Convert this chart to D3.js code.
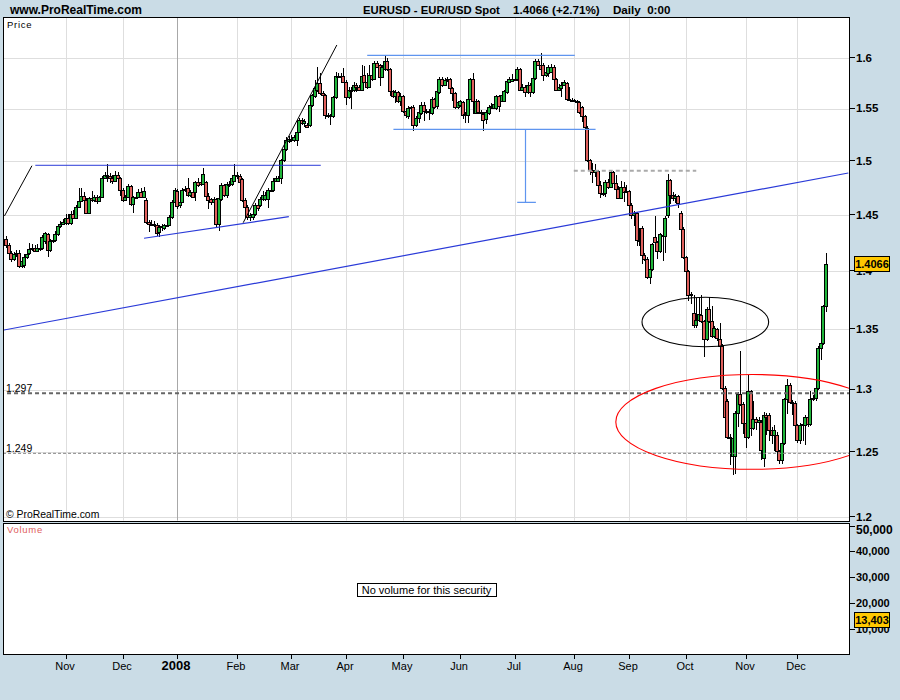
<!DOCTYPE html>
<html><head><meta charset="utf-8">
<script src="https://cdn.jsdelivr.net/npm/d3@7/dist/d3.min.js"></script>
<style>html,body{margin:0;padding:0;background:#cadce6;overflow:hidden}svg{display:block}text{font-family:"Liberation Sans",Arial,sans-serif}</style>
</head><body><svg id="c" width="900" height="700"></svg>
<script>
const opens=[1.4285,1.4235,1.416,1.411,1.415,1.416,1.405,1.4055,1.4125,1.416,
1.42,1.421,1.418,1.42,1.421,1.4265,1.433,1.419,1.4265,1.4275,
1.433,1.44,1.4425,1.443,1.448,1.443,1.4515,1.448,1.458,1.463,
1.468,1.464,1.4525,1.4655,1.464,1.467,1.463,1.467,1.4845,1.487,
1.4865,1.484,1.482,1.4875,1.484,1.473,1.464,1.467,1.477,1.46,
1.4665,1.467,1.4715,1.467,1.464,1.4435,1.4425,1.442,1.441,1.435,
1.439,1.4385,1.441,1.441,1.4485,1.4625,1.4725,1.459,1.4625,1.473,
1.4755,1.4685,1.4715,1.4715,1.481,1.481,1.479,1.481,1.468,1.4645,
1.4625,1.465,1.4425,1.4645,1.478,1.4685,1.478,1.4785,1.482,1.487,
1.4865,1.483,1.464,1.458,1.4485,1.4485,1.4515,1.4595,1.4595,1.465,
1.465,1.465,1.473,1.473,1.482,1.482,1.484,1.501,1.512,1.519,
1.5215,1.52,1.52,1.5279,1.5389,1.5364,1.5342,1.5342,1.5534,1.5627,
1.5684,1.575,1.5657,1.5634,1.5443,1.5427,1.5427,1.5617,1.5827,1.582,
1.5827,1.5767,1.5617,1.5684,1.5684,1.5734,1.5717,1.569,1.5833,1.5767,
1.571,1.5833,1.579,1.595,1.5933,1.5817,1.589,1.5977,1.589,1.5674,
1.5627,1.5667,1.5577,1.5627,1.5484,1.5427,1.551,1.5517,1.5342,1.5415,
1.5459,1.5542,1.5484,1.5468,1.5459,1.56,1.5524,1.5667,1.579,1.5734,
1.5784,1.579,1.57,1.5657,1.5517,1.5534,1.5567,1.5446,1.5446,1.56,
1.579,1.5462,1.5577,1.5468,1.5453,1.5405,1.5459,1.5517,1.5507,1.5507,
1.5627,1.5577,1.5577,1.5667,1.5767,1.5774,1.5784,1.579,1.589,1.569,
1.5717,1.5667,1.5734,1.5667,1.58,1.5977,1.5933,1.5933,1.5833,1.585,
1.5867,1.5917,1.579,1.569,1.57,1.5734,1.575,1.56,1.559,1.5584,
1.5577,1.5567,1.5517,1.5427,1.5319,1.501,1.4917,1.49,1.4905,1.478,
1.47,1.4706,1.4808,1.4762,1.4901,1.48,1.4744,1.466,1.4762,1.4713,
1.4719,1.4598,1.4506,1.452,1.4274,1.4387,1.4148,1.411,1.395,1.402,
1.4306,1.4259,1.4178,1.4318,1.4312,1.45,1.4821,1.469,1.466,1.4675,
1.4525,1.4378,1.4127,1.4,1.3794,1.3643,1.3534,1.358,1.3624,1.3567,
1.3417,1.3674,1.3567,1.3444,1.35,1.3417,1.3361,1.3014,1.2908,1.2622,
1.2469,1.2469,1.2811,1.2962,1.2881,1.273,1.2617,1.299,1.2692,1.2765,
1.2738,1.2738,1.2456,1.2792,1.2792,1.2676,1.2638,1.2638,1.2508,1.2435,
1.2573,1.2919,1.3036,1.29,1.2892,1.2711,1.2595,1.2711,1.2711,1.2778,
1.2724,1.2919,1.2935,1.3014,1.3342,1.3383,1.3695];
const closes=[1.4235,1.416,1.411,1.415,1.416,1.405,1.409,1.4125,1.4155,1.42,
1.421,1.418,1.421,1.421,1.43,1.434,1.419,1.4265,1.428,1.433,
1.44,1.4425,1.444,1.448,1.443,1.4515,1.448,1.458,1.463,1.468,
1.464,1.4525,1.4655,1.464,1.467,1.463,1.467,1.4845,1.487,1.4865,
1.484,1.482,1.4875,1.484,1.473,1.464,1.467,1.477,1.46,1.4665,
1.467,1.4715,1.467,1.472,1.4435,1.4425,1.442,1.441,1.434,1.439,
1.44,1.441,1.441,1.4485,1.4625,1.473,1.4585,1.4625,1.473,1.4745,
1.4685,1.4715,1.467,1.481,1.478,1.479,1.488,1.468,1.464,1.4625,
1.465,1.4425,1.4655,1.478,1.4685,1.479,1.479,1.484,1.487,1.4865,
1.481,1.464,1.458,1.4485,1.45,1.4515,1.4595,1.4565,1.465,1.469,
1.469,1.4735,1.4725,1.482,1.484,1.484,1.501,1.512,1.52,1.5215,
1.52,1.5225,1.5279,1.5389,1.5364,1.5383,1.5322,1.5534,1.5634,1.57,
1.5757,1.5657,1.5634,1.5437,1.5427,1.5437,1.5617,1.5827,1.582,1.5827,
1.5767,1.5617,1.5684,1.5674,1.5734,1.5717,1.569,1.5827,1.5767,1.571,
1.5833,1.579,1.595,1.5917,1.5817,1.5917,1.5977,1.589,1.5674,1.5627,
1.5667,1.5577,1.5627,1.5484,1.5437,1.551,1.5517,1.5342,1.5415,1.5468,
1.5542,1.5484,1.5468,1.5484,1.56,1.5517,1.5674,1.579,1.5734,1.5784,
1.579,1.57,1.5657,1.5517,1.5567,1.5574,1.5446,1.5453,1.56,1.579,
1.5577,1.5577,1.5468,1.5459,1.5389,1.5468,1.5517,1.5524,1.555,1.5627,
1.5527,1.5634,1.5674,1.5774,1.579,1.579,1.579,1.589,1.569,1.5717,
1.5667,1.5734,1.5667,1.58,1.5977,1.5933,1.589,1.5833,1.5867,1.5917,
1.5917,1.579,1.569,1.5717,1.5734,1.5761,1.56,1.559,1.5584,1.5577,
1.5567,1.5468,1.5427,1.5326,1.501,1.4917,1.49,1.4917,1.478,1.47,
1.4706,1.4808,1.4762,1.4901,1.48,1.4744,1.466,1.4762,1.4713,1.4719,
1.4598,1.4506,1.452,1.4274,1.4274,1.4148,1.411,1.395,1.402,1.4238,
1.4259,1.4178,1.4327,1.4318,1.4476,1.4821,1.469,1.466,1.4675,1.4613,
1.4378,1.4127,1.4,1.3794,1.38,1.3534,1.358,1.3629,1.3567,1.3417,
1.3674,1.3567,1.3444,1.3508,1.3425,1.3361,1.3014,1.2778,1.2622,1.2612,
1.2612,1.2811,1.2962,1.2881,1.273,1.2617,1.299,1.2692,1.2765,1.2738,
1.2757,1.2514,1.2792,1.2778,1.2676,1.2638,1.2676,1.2508,1.2435,1.2573,
1.2919,1.3036,1.29,1.2887,1.2711,1.2595,1.2711,1.2719,1.2778,1.2719,
1.2919,1.2935,1.3014,1.3342,1.3383,1.3695,1.4066];
const highs=[1.431,1.425,1.418,1.417,1.419,1.419,1.411,1.415,1.418,1.425,
1.424,1.423,1.424,1.423,1.432,1.435,1.434,1.429,1.431,1.436,
1.441,1.445,1.447,1.4515,1.451,1.4535,1.455,1.459,1.4747,1.475,
1.471,1.466,1.467,1.4725,1.469,1.469,1.468,1.486,1.49,1.497,
1.489,1.487,1.491,1.49,1.4855,1.475,1.469,1.479,1.478,1.468,
1.47,1.474,1.475,1.476,1.466,1.446,1.446,1.445,1.443,1.441,
1.442,1.442,1.443,1.45,1.464,1.475,1.474,1.465,1.475,1.477,
1.484,1.473,1.474,1.482,1.484,1.4835,1.4935,1.482,1.47,1.466,
1.467,1.466,1.467,1.48,1.479,1.481,1.482,1.486,1.4975,1.49,
1.488,1.484,1.466,1.459,1.452,1.455,1.461,1.463,1.467,1.472,
1.471,1.475,1.475,1.484,1.486,1.486,1.502,1.513,1.5225,1.524,
1.5245,1.525,1.53,1.541,1.541,1.54,1.536,1.555,1.565,1.578,
1.5917,1.5855,1.568,1.565,1.546,1.5455,1.563,1.586,1.5855,1.585,
1.59,1.578,1.571,1.571,1.576,1.575,1.5735,1.5935,1.592,1.585,
1.5935,1.586,1.5975,1.597,1.5945,1.593,1.602,1.6,1.59,1.569,
1.5685,1.568,1.566,1.564,1.55,1.5525,1.553,1.5535,1.543,1.5485,
1.5565,1.5567,1.55,1.55,1.562,1.561,1.571,1.581,1.581,1.58,
1.581,1.5805,1.5715,1.567,1.558,1.559,1.558,1.547,1.561,1.58,
1.5855,1.5595,1.559,1.549,1.547,1.549,1.554,1.556,1.557,1.564,
1.564,1.5655,1.569,1.579,1.5815,1.584,1.581,1.591,1.5905,1.574,
1.573,1.576,1.575,1.5815,1.5995,1.5995,1.605,1.595,1.5885,1.5935,
1.5945,1.593,1.5805,1.574,1.5765,1.5785,1.5765,1.5715,1.561,1.56,
1.559,1.558,1.553,1.544,1.5335,1.5025,1.498,1.497,1.492,1.482,
1.4725,1.4825,1.483,1.4915,1.491,1.4875,1.477,1.482,1.4805,1.478,
1.473,1.461,1.4535,1.453,1.4387,1.44,1.4165,1.4125,1.403,1.425,
1.4497,1.427,1.434,1.4396,1.449,1.4883,1.4835,1.471,1.4695,1.469,
1.4535,1.439,1.4135,1.401,1.382,1.3795,1.377,1.378,1.379,1.358,
1.369,1.3777,1.37,1.353,1.3515,1.355,1.3375,1.303,1.2925,1.264,
1.263,1.283,1.298,1.3314,1.29,1.2745,1.3116,1.3,1.2905,1.278,
1.278,1.2755,1.2815,1.281,1.281,1.2695,1.2715,1.2655,1.252,1.259,
1.2935,1.3089,1.305,1.2915,1.2905,1.2725,1.273,1.2745,1.2795,1.2795,
1.2985,1.2955,1.3035,1.336,1.3425,1.371,1.4159];
const lows=[1.421,1.413,1.408,1.409,1.413,1.403,1.403,1.4025,1.411,1.414,
1.418,1.417,1.417,1.418,1.419,1.424,1.413,1.417,1.425,1.426,
1.431,1.4385,1.441,1.4415,1.4415,1.4415,1.447,1.4465,1.457,1.462,
1.463,1.4515,1.451,1.462,1.462,1.46,1.462,1.466,1.483,1.481,
1.48,1.479,1.4805,1.482,1.468,1.462,1.463,1.466,1.4585,1.452,
1.465,1.466,1.466,1.466,1.442,1.435,1.44,1.439,1.431,1.43,
1.436,1.437,1.439,1.44,1.447,1.461,1.456,1.457,1.461,1.471,
1.467,1.467,1.4655,1.463,1.476,1.477,1.478,1.466,1.456,1.459,
1.461,1.4395,1.4355,1.463,1.467,1.466,1.476,1.477,1.481,1.483,
1.48,1.4625,1.454,1.446,1.4445,1.446,1.449,1.454,1.458,1.463,
1.463,1.457,1.471,1.471,1.481,1.481,1.4785,1.4995,1.51,1.517,
1.518,1.5185,1.514,1.5265,1.534,1.533,1.5315,1.533,1.552,1.561,
1.567,1.564,1.561,1.5405,1.541,1.5345,1.541,1.56,1.58,1.578,
1.575,1.5534,1.56,1.55,1.567,1.5665,1.5675,1.5675,1.575,1.5695,
1.57,1.577,1.578,1.59,1.5725,1.58,1.5875,1.5875,1.563,1.561,
1.556,1.5555,1.553,1.546,1.5415,1.54,1.549,1.5285,1.5325,1.536,
1.5445,1.5385,1.545,1.5395,1.5445,1.55,1.55,1.565,1.571,1.572,
1.5765,1.568,1.558,1.55,1.55,1.552,1.5405,1.5365,1.5365,1.5585,
1.5455,1.545,1.545,1.5435,1.5285,1.535,1.5445,1.55,1.5495,1.549,
1.5475,1.5565,1.5565,1.565,1.575,1.576,1.577,1.5775,1.5675,1.5675,
1.562,1.5645,1.562,1.565,1.578,1.592,1.5875,1.5775,1.581,1.5815,
1.585,1.5775,1.5675,1.5675,1.562,1.572,1.5585,1.5575,1.557,1.5565,
1.555,1.545,1.5375,1.531,1.4995,1.487,1.4795,1.485,1.472,1.4655,
1.4675,1.4665,1.474,1.475,1.479,1.473,1.4645,1.4645,1.4625,1.47,
1.458,1.447,1.44,1.4225,1.4225,1.4065,1.4095,1.3935,1.3885,1.4,
1.4245,1.4105,1.416,1.4095,1.416,1.4475,1.4605,1.463,1.461,1.4565,
1.4355,1.411,1.398,1.3745,1.3715,1.351,1.351,1.357,1.355,1.3264,
1.34,1.355,1.3425,1.3425,1.34,1.334,1.3,1.2725,1.26,1.24,
1.2325,1.2326,1.27,1.2865,1.264,1.2535,1.26,1.263,1.2675,1.2675,
1.2715,1.2435,1.2386,1.2635,1.259,1.2565,1.2505,1.2445,1.2405,1.2405,
1.2555,1.28,1.2885,1.2795,1.2695,1.2575,1.256,1.259,1.2554,1.2695,
1.2705,1.2905,1.291,1.3,1.3244,1.3365,1.365];
const monthTickIdx=[23,45,66,89,110,131,153,175,196,219,240,262,285,305];
const monthTickLabels=["Nov","Dec","2008","Feb","Mar","Apr","May","Jun","Jul","Aug","Sep","Oct","Nov","Dec"];
const priceTicks=[1.2,1.25,1.3,1.35,1.4,1.45,1.5,1.55,1.6];
const volumeTicks=[10000,20000,30000,40000,50000];
const lastPrice=1.4066, lastVolume=13403, lastChange="+2.71%";
const levelA=1.297, levelB=1.249;
// annotation anchors: [index, price]
const blackRay=[[-0.6,1.4494],[10,1.4958]];
const resistance=[[11.3,1.4962],[121.3,1.4962]];
const support=[[53.2,1.4293],[109,1.4488]];
const longTrend=[[-0.8,1.3494],[324.6,1.489]];
const steepTrend=[[91.4,1.4433],[127.5,1.6134]];
const topLine=[[139.2,1.603],[219.2,1.603]];
const neckLine=[[149.3,1.5303],[227.2,1.5303]];
const targetStem=[[200.2,1.5303],[200.2,1.4619]];
const targetFoot=[[197,1.4619],[204.2,1.4619]];
const dashLevel=[[218.8,1.491],[266,1.491]];
const blackEllipse={i0:245.1,i1:293.9,p0:1.3774,p1:1.3353};
const redEllipse={i0:235,i1:340.4,p0:1.3123,p1:1.2366};

const svg=d3.select("#c");
const L=4,R=849,T=18,B=520.5,VT=523.5,VB=654;
const x=d3.scaleLinear().domain([0,316]).range([6,826]);
const y=d3.scaleLog().domain([1.2,1.6]).range([517.2,58.3]);
const vy=d3.scaleLinear().domain([10000,50000]).range([628.5,525.5]);
const px=i=>Math.round(x(i));
svg.append("rect").attr("width",900).attr("height",700).attr("fill","#cadce6");
svg.append("defs").append("clipPath").attr("id","pc").append("rect").attr("x",L).attr("y",T).attr("width",R-L).attr("height",B-T);
const crisp=s=>s.attr("shape-rendering","crispEdges");
crisp(svg.append("rect").attr("x",L-.5).attr("y",T-.5).attr("width",R-L+1).attr("height",B-T+1).attr("fill","#fff").attr("stroke","none"));
const plot=svg.append("g").attr("clip-path","url(#pc)");
// grid
crisp(plot.selectAll(".gh").data(priceTicks).join("line").attr("x1",L).attr("x2",R).attr("y1",d=>Math.round(y(d))+.5).attr("y2",d=>Math.round(y(d))+.5).attr("stroke","#dedede"));
crisp(plot.selectAll(".gv").data(monthTickIdx).join("line").attr("x1",d=>px(d)+.5).attr("x2",d=>px(d)+.5).attr("y1",T).attr("y2",B).attr("stroke",(d,i)=>monthTickLabels[i]==="2008"?"#a8a8a8":"#dedede"));
// candles
const idx=d3.range(opens.length);
crisp(plot.selectAll(".w").data(idx).join("line").attr("x1",i=>px(i)+.5).attr("x2",i=>px(i)+.5).attr("y1",i=>y(highs[i])).attr("y2",i=>y(lows[i])).attr("stroke","#000"));
crisp(plot.selectAll(".b").data(idx).join("rect")
 .attr("x",i=>px(i)-1.5).attr("width",3)
 .attr("y",i=>Math.round(y(Math.max(opens[i],closes[i])))+.5)
 .attr("height",i=>Math.max(1,Math.round(y(Math.min(opens[i],closes[i])))-Math.round(y(Math.max(opens[i],closes[i])))))
 .attr("fill",i=>closes[i]>=opens[i]?"#1fb53a":"#e0605c").attr("stroke","#000"));
// levels
const seg=(pts,col,w,dash)=>{const l=plot.append("path").attr("d",d3.line().x(d=>x(d[0])).y(d=>y(d[1]))(pts)).attr("fill","none").attr("stroke",col).attr("stroke-width",w);if(dash)l.attr("stroke-dasharray",dash);return l;};
seg([[-5,levelA],[330,levelA]],"#666",2,"4,3");
seg([[-5,levelB],[330,levelB]],"#888",1,"3,2");
seg(blackRay,"#000",1);
seg(resistance,"#2a3ad8",1);
seg(support,"#2a3ad8",1.2);
seg(longTrend,"#2a3ad8",1.2);
seg(steepTrend,"#000",1);
seg(topLine,"#5f95ef",1.2);
seg(neckLine,"#5f95ef",1.2);
seg(targetStem,"#5f95ef",1.2);
seg(targetFoot,"#5f95ef",1.2);
seg(dashLevel,"#aaa",2,"4,3");
const ell=(e,col)=>plot.append("ellipse").attr("cx",(x(e.i0)+x(e.i1))/2).attr("cy",(y(e.p0)+y(e.p1))/2).attr("rx",(x(e.i1)-x(e.i0))/2).attr("ry",(y(e.p1)-y(e.p0))/2).attr("fill","none").attr("stroke",col).attr("stroke-width",1.1);
ell(blackEllipse,"#000");ell(redEllipse,"#f00");
// plot labels
const tx=(s,xx,yy,size,opt={})=>{const t=svg.append("text").attr("x",xx).attr("y",yy).attr("font-size",size).attr("fill",opt.fill||"#000").text(s);if(opt.b)t.attr("font-weight","bold");if(opt.a)t.attr("text-anchor",opt.a);if(opt.ls)t.attr("letter-spacing",opt.ls);return t;};
tx("Price",7,28,9.5,{ls:.7});
tx(levelA.toFixed(3),6,392,10.5);
tx(levelB.toFixed(3),6,452,10.5);
tx("\u00a9 ProRealTime.com",6,518,10.4);
// frame
crisp(svg.append("rect").attr("x",L-.5).attr("y",T-.5).attr("width",R-L+1).attr("height",B-T+1).attr("fill","none").attr("stroke","#000"));
crisp(svg.append("rect").attr("x",L-.5).attr("y",VT).attr("width",R-L+1).attr("height",VB-VT).attr("fill","#fff").attr("stroke","#000"));
tx("Volume",7,533,9.5,{fill:"#e06060",ls:.7});
// no-volume box
crisp(svg.append("rect").attr("x",357.5).attr("y",583.5).attr("width",139).attr("height",13).attr("fill","#fff").attr("stroke","#000"));
tx("No volume for this security",426.5,594,11,{a:"middle"});
// x axis
const ax=svg.append("g");
crisp(ax.selectAll("line").data(monthTickIdx).join("line").attr("x1",d=>px(d)+.5).attr("x2",d=>px(d)+.5).attr("y1",VB).attr("y2",VB+5).attr("stroke","#000"));
monthTickIdx.forEach((d,i)=>{const is=monthTickLabels[i]==="2008";tx(monthTickLabels[i],px(d)-1,670,is?13:11,{a:"middle",b:is});});
// y axes
crisp(svg.selectAll(".pt").data(priceTicks).join("line").attr("x1",R).attr("x2",R+6).attr("y1",d=>Math.round(y(d))+.5-1).attr("y2",d=>Math.round(y(d))+.5-1).attr("stroke","#000"));
priceTicks.forEach(d=>tx(d3.format("~g")(d),856,y(d)+3.5,11.5,{b:true}));
crisp(svg.selectAll(".vt").data(volumeTicks).join("line").attr("x1",R).attr("x2",R+6).attr("y1",d=>Math.round(vy(d))+.5).attr("y2",d=>Math.round(vy(d))+.5).attr("stroke","#000"));
volumeTicks.forEach(d=>tx(d3.format(",")(d),856,vy(d)+(d===50000?8:4),d===50000?12:11,{b:true}));
// value tags
const tag=(s,cy)=>{crisp(svg.append("rect").attr("x",854.5).attr("y",Math.round(cy)-7.5).attr("width",35).attr("height",15).attr("fill","#ffc800").attr("stroke","#000"));tx(s,872,Math.round(cy)+4,11,{a:"middle",b:true});};
tag(lastPrice.toFixed(4),y(lastPrice));
tag(d3.format(",")(lastVolume),vy(lastVolume));
// header
tx("www.ProRealTime.com",10,14,12,{b:true});
tx("EURUSD - EUR/USD Spot",363,14,11.3,{b:true});
tx(lastPrice.toFixed(4)+" ("+lastChange+")",513,14,11.7,{b:true});
tx("Daily  0:00",613,14,11.6,{b:true}).style("white-space","pre");
</script></body></html>
